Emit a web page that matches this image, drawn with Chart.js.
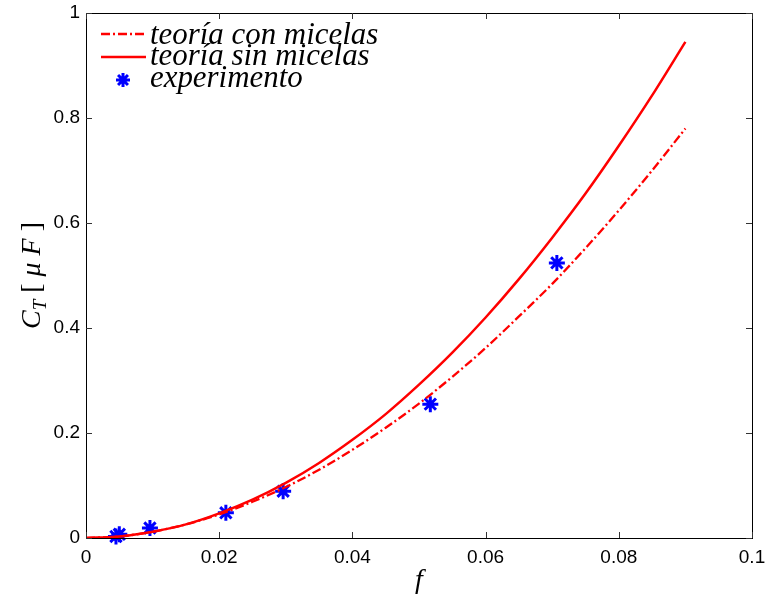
<!DOCTYPE html>
<html lang="es">
<head>
<meta charset="UTF-8">
<title>C_T frente a f</title>
<script src="https://cdn.jsdelivr.net/npm/chart.js@4.4.1/dist/chart.umd.min.js"></script>
<style>
  * {margin:0;padding:0;box-sizing:border-box;}
  body {background:#fff;width:766px;height:600px;overflow:hidden;}
  #wrap {position:relative;width:766px;height:600px;}
</style>
</head>
<body>
<div id="wrap"><canvas id="chart" width="766" height="600"></canvas></div>
<script>
// curve samples
const fGrid = [0, 0.005, 0.01, 0.015, 0.02, 0.025, 0.03, 0.035, 0.04, 0.045,
               0.05, 0.055, 0.06, 0.065, 0.07, 0.075, 0.08, 0.085, 0.09];
const conMicelas = [0, 0.003, 0.012, 0.026, 0.045, 0.069, 0.097, 0.130, 0.168, 0.210,
                    0.256, 0.307, 0.362, 0.422, 0.484, 0.552, 0.624, 0.700, 0.780];
const sinMicelas = [0, 0.003, 0.012, 0.026, 0.047, 0.073, 0.105, 0.143, 0.187, 0.236,
                    0.292, 0.353, 0.420, 0.493, 0.572, 0.656, 0.747, 0.843, 0.945];
// measured points
const expF = [0.0045, 0.005, 0.0096, 0.021, 0.0296, 0.0517, 0.0707];
const expC = [0.003, 0.007, 0.019, 0.048, 0.089, 0.255, 0.524];

const xTicks = [0, 0.02, 0.04, 0.06, 0.08, 0.1];
const yTicks = [0, 0.2, 0.4, 0.6, 0.8, 1];
const legendLabels = ['teoría con micelas', 'teoría sin micelas', 'experimento'];

const RED = '#ff0000', BLUE = '#0000ff';
const SERIF = '"Liberation Serif", "DejaVu Serif", serif';

function pairs(xs, ys){ return xs.map((x,i)=>({x:x, y:ys[i]})); }
function fmt(v){ return String(Number(v.toFixed(3))); }

const matlabAxes = {
  id: 'matlabAxes',
  afterDraw(chart){
    const ctx = chart.ctx, a = chart.chartArea;
    const xs = chart.scales.x, ys = chart.scales.y;
    ctx.save();
    // box
    ctx.strokeStyle = '#000';
    ctx.lineWidth = 1;
    ctx.strokeRect(Math.round(a.left)+0.5, Math.round(a.top)+0.5, Math.round(a.right-a.left), Math.round(a.bottom-a.top));
    // inward ticks
    ctx.strokeStyle = '#333';
    ctx.beginPath();
    xTicks.forEach(v=>{
      const px = Math.round(xs.getPixelForValue(v))+0.5;
      ctx.moveTo(px, a.bottom); ctx.lineTo(px, a.bottom-6);
      ctx.moveTo(px, a.top); ctx.lineTo(px, a.top+6);
    });
    yTicks.forEach(v=>{
      const py = Math.round(ys.getPixelForValue(v))+0.5;
      ctx.moveTo(a.left, py); ctx.lineTo(a.left+6, py);
      ctx.moveTo(a.right, py); ctx.lineTo(a.right-6, py);
    });
    ctx.stroke();

    // x title
    ctx.fillStyle = '#000';
    ctx.font = 'italic 28px ' + SERIF;
    ctx.textAlign = 'center';
    ctx.textBaseline = 'alphabetic';
    ctx.fillText('f', (a.left+a.right)/2, 588);

    // y title: C_T [ μ F ]
    const parts = [
      {t:'C', f:'italic 28px '+SERIF, dy:0},
      {t:'T', f:'italic 19px '+SERIF, dy:6},
      {t:' [', f:'28px '+SERIF, dy:0},
      {t:' μ', f:'italic 28px '+SERIF, dy:0},
      {t:' F', f:'italic 28px '+SERIF, dy:0},
      {t:' ]', f:'28px '+SERIF, dy:0}
    ];
    let total = 0;
    parts.forEach(p=>{ ctx.font = p.f; p.w = ctx.measureText(p.t).width; total += p.w; });
    ctx.translate(40, (a.top+a.bottom)/2);
    ctx.rotate(-Math.PI/2);
    ctx.textAlign = 'left';
    let cx = -total/2;
    parts.forEach(p=>{ ctx.font = p.f; ctx.fillText(p.t, cx, p.dy); cx += p.w; });
    ctx.setTransform(1,0,0,1,0,0);

    // legend
    const rows = [34, 57, 80];
    const base = [44, 65, 87];
    ctx.lineWidth = 2.5;
    ctx.strokeStyle = RED;
    ctx.setLineDash([9,3,2,3]);
    ctx.beginPath(); ctx.moveTo(101, rows[0]); ctx.lineTo(146, rows[0]); ctx.stroke();
    ctx.setLineDash([]);
    ctx.beginPath(); ctx.moveTo(101, rows[1]); ctx.lineTo(146, rows[1]); ctx.stroke();
    // star
    ctx.strokeStyle = BLUE;
    ctx.lineWidth = 3;
    ctx.beginPath();
    for(let k=0;k<4;k++){
      const ang = k*Math.PI/4, r = 7;
      ctx.moveTo(123 - r*Math.sin(ang), rows[2] - r*Math.cos(ang));
      ctx.lineTo(123 + r*Math.sin(ang), rows[2] + r*Math.cos(ang));
    }
    ctx.stroke();
    ctx.fillStyle = '#000';
    ctx.font = 'italic 24px ' + SERIF;
    const w0 = ctx.measureText(legendLabels[0]).width;
    const size = 24 * 228 / w0;
    ctx.font = 'italic ' + size.toFixed(1) + 'px ' + SERIF;
    ctx.textAlign = 'left';
    legendLabels.forEach((t,i)=>ctx.fillText(t, 150, base[i]));
    ctx.restore();
  }
};

new Chart(document.getElementById('chart'), {
  type: 'scatter',
  data: {
    datasets: [
      {label: legendLabels[0], data: pairs(fGrid, conMicelas), showLine: true,
       borderColor: RED, borderWidth: 2.3, borderDash: [9,3,2,3], pointRadius: 0,
       cubicInterpolationMode: 'monotone', fill: false},
      {label: legendLabels[1], data: pairs(fGrid, sinMicelas), showLine: true,
       borderColor: RED, borderWidth: 2.5, pointRadius: 0,
       cubicInterpolationMode: 'monotone', fill: false},
      {label: legendLabels[2], data: pairs(expF, expC), showLine: false,
       pointStyle: 'star', pointRadius: 8, borderColor: BLUE, backgroundColor: BLUE,
       pointBorderWidth: 3, clip: false}
    ]
  },
  options: {
    responsive: false,
    animation: false,
    devicePixelRatio: 1,
    layout: {padding: {top: 0, right: 0, left: 0, bottom: 0}},
    plugins: {legend: {display: false}, tooltip: {enabled: false}},
    scales: {
      x: {
        type: 'linear', min: 0, max: 0.1,
        afterBuildTicks: s => { s.ticks = xTicks.map(v=>({value:v})); },
        afterFit: s => { s.height = 62; s.paddingRight = 14; s.paddingLeft = 0; },
        grid: {display: false, drawTicks: false},
        border: {display: false},
        ticks: {color: '#000', font: {family: '"Liberation Sans", Arial, sans-serif', size: 19}, padding: 8, maxRotation: 0,
                callback: v => fmt(v)}
      },
      y: {
        type: 'linear', min: 0, max: 1,
        afterBuildTicks: s => { s.ticks = yTicks.map(v=>({value:v})); },
        afterFit: s => { s.width = 86; s.paddingTop = 13; s.paddingBottom = 0; },
        grid: {display: false, drawTicks: false},
        border: {display: false},
        ticks: {color: '#000', font: {family: '"Liberation Sans", Arial, sans-serif', size: 19}, padding: 6,
                callback: v => fmt(v)}
      }
    }
  },
  plugins: [matlabAxes]
});
</script>
</body>
</html>
